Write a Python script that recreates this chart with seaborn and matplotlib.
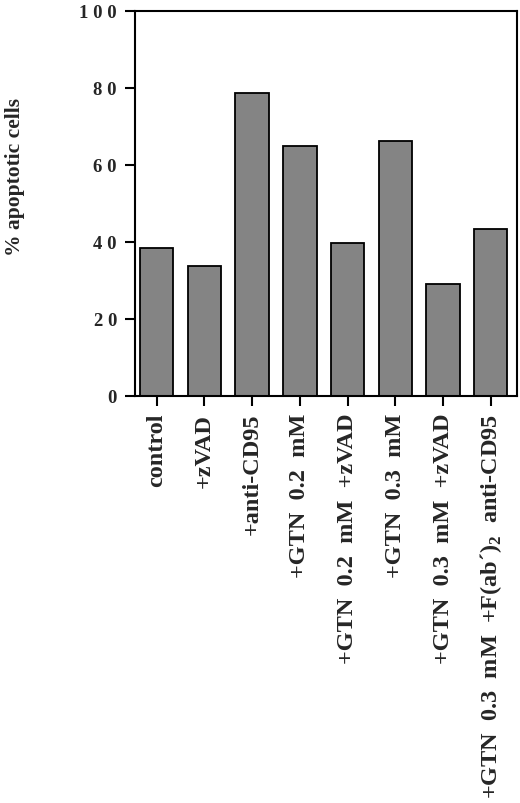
import matplotlib
matplotlib.use('Agg')
import matplotlib.pyplot as plt
import seaborn as sns
import pandas as pd

# data
treatments = [
    'control',
    '+zVAD',
    '+anti-CD95',
    '+GTN  0.2  mM',
    '+GTN  0.2  mM  +zVAD',
    '+GTN  0.3  mM',
    '+GTN  0.3  mM  +zVAD',
    '+GTN  0.3  mM  +F(ab´)$_\\mathbf{2}$  anti-CD95',
]
apoptotic = [38.5, 33.8, 78.7, 64.9, 39.7, 66.2, 29.1, 43.5]

y_ticks = [0, 20, 40, 60, 80, 100]
y_tick_labels = ['0', '2 0', '4 0', '6 0', '8 0', '1 0 0']

df = pd.DataFrame({'treatment': treatments, 'apoptotic': apoptotic})

sns.set_theme(style='white')
plt.rcParams['font.family'] = ['Liberation Serif', 'DejaVu Serif']
plt.rcParams['font.weight'] = 'bold'
plt.rcParams['mathtext.fontset'] = 'custom'
plt.rcParams['mathtext.rm'] = 'Liberation Serif:bold'
plt.rcParams['mathtext.bf'] = 'Liberation Serif:bold'

fig = plt.figure(figsize=(5.2, 8.04), dpi=100)
ax = fig.add_axes([135 / 520, 1 - 397 / 804, 382 / 520, 385 / 804])

sns.barplot(data=df, x='treatment', y='apoptotic', color='#848484',
            saturation=1, width=0.7, edgecolor='black', linewidth=1.3, ax=ax)

ax.set_xlim(-0.455, 7.55)
ax.set_ylim(0, 100)
ax.set_yticks(y_ticks)
ax.set_yticklabels(y_tick_labels, fontsize=13.5, fontweight='bold')
ax.set_xticks(range(len(treatments)))
ax.set_xticklabels(treatments, rotation=90, fontsize=17.5, fontweight='bold')
ax.set_xlabel('')
ax.set_ylabel('')

for side in ['left', 'right', 'top', 'bottom']:
    ax.spines[side].set_visible(True)
    ax.spines[side].set_color('black')
    ax.spines[side].set_linewidth(1.5)

ax.tick_params(axis='both', direction='out', length=7, width=1.5, color='black')
ax.tick_params(axis='y', pad=6, left=True)
ax.tick_params(axis='x', pad=5, bottom=True)

fig.text(15.5 / 520, 1 - 177 / 804, '% apoptotic cells', rotation=90,
         ha='center', va='center', fontsize=15.5, fontweight='bold')

fig.savefig('out.png', dpi=100)
